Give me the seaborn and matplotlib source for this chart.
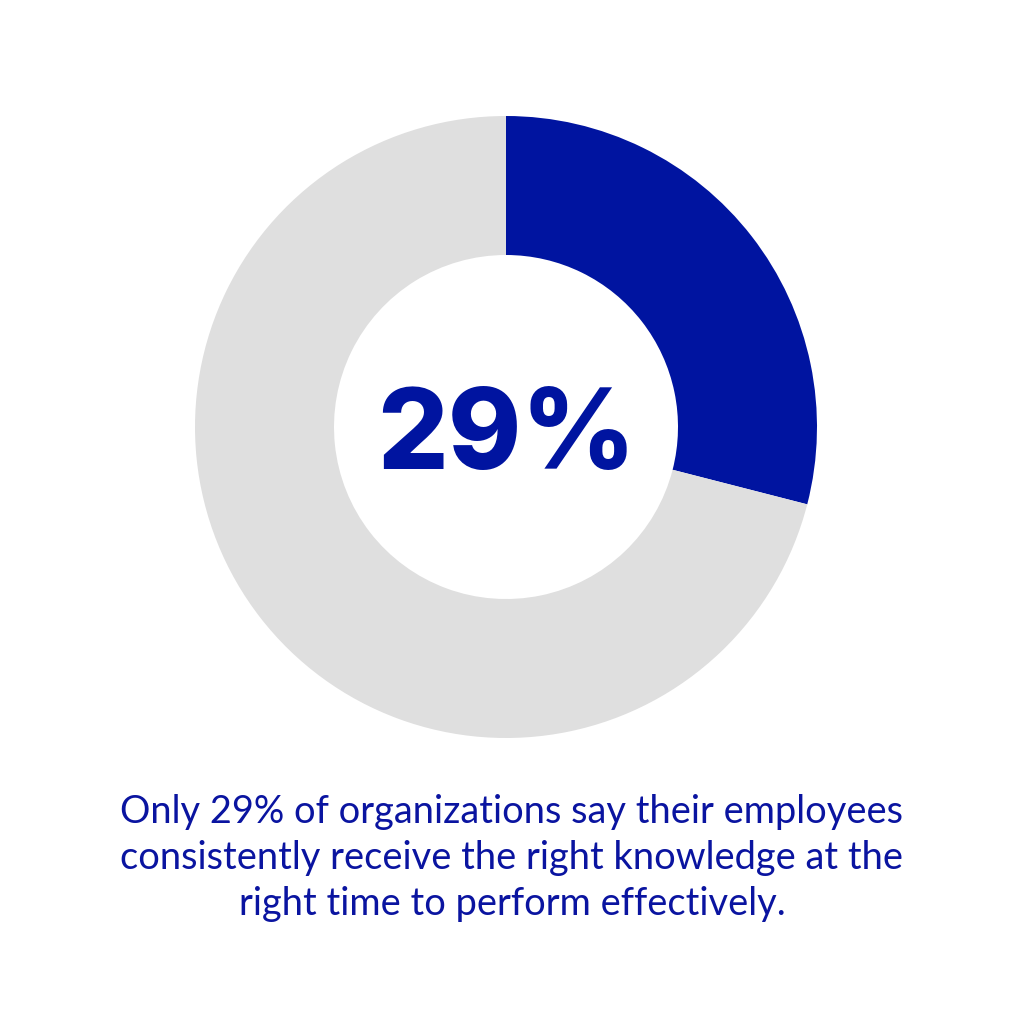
import matplotlib.pyplot as plt
import seaborn as sns

# set style of visualization
sns.set_style("white")

# =============================================================================
# data
# =============================================================================
labels = ["Receive right knowledge", "Others"]
values = [29, 71]
colors = ["#0014A0", "#DFDFDF"]
big_label = "29%"
caption = ("Only 29% of organizations say their employees\n"
           "consistently receive the right knowledge at the\n"
           "right time to perform effectively.")

plt.rcParams["font.family"] = ["Lato", "DejaVu Sans"]

fig = plt.figure(figsize = (10.24, 10.24), dpi = 100)
fig.patch.set_facecolor("white")

# donut axes (centre ~ (506, 427) px, outer radius ~311 px)
r = 311 / 1024
cx, cy = 506 / 1024, 1 - 427 / 1024
ax = fig.add_axes([cx - r, cy - r, 2 * r, 2 * r])

ax.pie(values, colors = colors, startangle = 90, counterclock = False,
       radius = 1, wedgeprops = dict(width = 1 - 172 / 311, linewidth = 0))
ax.set_xlim(-1, 1)
ax.set_ylim(-1, 1)
ax.set_aspect("equal")
ax.axis("off")

# big number in the middle
ax.text(0, -0.04, big_label, ha = "center", va = "center", fontsize = 80,
        fontweight = "heavy", color = colors[0], family = ["Inter", "DejaVu Sans"])

# caption under the donut
fig.text(0.5, 1 - 858 / 1024, caption, ha = "center", va = "center",
         fontsize = 27.4, color = "#0A14A0", linespacing = 1.33)

plt.savefig("out.png", dpi = 100, facecolor = "white")
